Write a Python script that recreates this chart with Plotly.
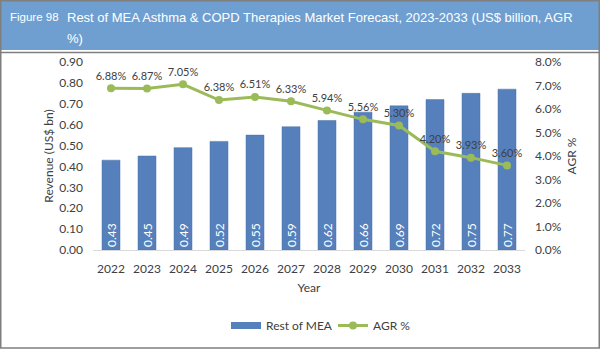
import plotly.graph_objects as go

years = ["2022","2023","2024","2025","2026","2027","2028","2029","2030","2031","2032","2033"]
revenue = [0.43,0.45,0.49,0.52,0.55,0.59,0.62,0.66,0.69,0.72,0.75,0.77]
agr = [6.88,6.87,7.05,6.38,6.51,6.33,5.94,5.56,5.30,4.20,3.93,3.60]

W, H = 600, 350
L, R, T, B = 93, 75, 62, 100
pw, ph = W - L - R, H - T - B
def px(x): return (x - L) / pw
def py(y): return (H - B - y) / ph

BAR = "#5580bb"
FONT = "Lato, 'Open Sans', Arial, sans-serif"
fig = go.Figure()
fig.add_trace(go.Bar(
    x=years, y=revenue, name="Rest of MEA", showlegend=False,
    marker=dict(color=BAR, line=dict(color="#4a72aa", width=0.5)),
    width=0.5,
    text=[f"{v:.2f}" for v in revenue], textposition="inside",
    insidetextanchor="start", textangle=-90, constraintext="none",
    textfont=dict(color="white", size=12, family=FONT),
))
# legend-only entry mimicking the wide bar swatch
fig.add_trace(go.Scatter(
    x=[None], y=[None], name="Rest of MEA", mode="lines",
    line=dict(color=BAR, width=7),
))
fig.add_trace(go.Scatter(
    x=years, y=[a/100 for a in agr], name="AGR %", yaxis="y2",
    mode="lines+markers+text",
    line=dict(color="#9bbb59", width=3),
    marker=dict(color="#9bbb59", size=8),
    text=[f"{a:.2f}%" for a in agr], textposition="top center",
    textfont=dict(color="#404040", size=11, family=FONT),
))

shapes = [
    dict(type="rect", xref="paper", yref="paper", x0=px(0), x1=px(W), y0=py(50), y1=py(0),
         fillcolor="#6f9fd0", line=dict(width=0), layer="below"),
    dict(type="line", xref="paper", yref="paper", x0=px(0), x1=px(W), y0=py(52.5), y1=py(52.5),
         line=dict(color="#7f7f7f", width=1.5)),
    dict(type="rect", xref="paper", yref="paper", x0=px(0.75), x1=px(W-0.75), y0=py(H-2), y1=py(0.75),
         line=dict(color="#7f7f7f", width=1.5), fillcolor="rgba(0,0,0,0)"),
]
tfont = dict(color="white", size=13, family="Liberation Sans, Arial")
annotations = [
    dict(text="Figure 98", x=px(8), y=py(17), xref="paper", yref="paper", xanchor="left", yanchor="middle",
         showarrow=False, font=dict(color="white", size=11.5, family="Liberation Sans, Arial")),
    dict(text="Rest of MEA Asthma & COPD Therapies Market Forecast, 2023-2033 (US$ billion, AGR",
         x=px(65), y=py(17), xref="paper", yref="paper", xanchor="left", yanchor="middle",
         showarrow=False, font=tfont),
    dict(text="%)", x=px(65), y=py(39), xref="paper", yref="paper", xanchor="left", yanchor="middle",
         showarrow=False, font=tfont),
]

fig.update_layout(
    width=W, height=H, margin=dict(l=L, r=R, t=T, b=B, autoexpand=False),
    paper_bgcolor="white", plot_bgcolor="white",
    font=dict(family=FONT, color="#404040", size=12),
    showlegend=True,
    legend=dict(orientation="h", x=px(226), xanchor="left", y=py(311), yanchor="top",
                font=dict(size=12, color="#404040"), entrywidth=62, itemwidth=30),
    xaxis=dict(range=[-0.5, 11.5], showline=True, linecolor="#d9d9d9", linewidth=1, ticks="", showgrid=False,
               automargin=False, ticklabelstandoff=8,
               title=dict(text="Year", standoff=8, font=dict(size=12)), tickfont=dict(size=12)),
    yaxis=dict(range=[0, 0.9], dtick=0.1, tickformat=".2f", showgrid=False, zeroline=False, automargin=False,
               ticklabelstandoff=9,
               title=dict(text="Revenue (US$ bn)", font=dict(size=12), standoff=3), tickfont=dict(size=12)),
    yaxis2=dict(range=[0, 0.08], dtick=0.01, tickformat=".1%", overlaying="y", side="right", automargin=False,
                showgrid=False, zeroline=False, ticklabelstandoff=9,
                title=dict(text="AGR %", font=dict(size=12), standoff=6), tickfont=dict(size=12)),
    shapes=shapes, annotations=annotations, bargap=0.5,
)
fig.write_html("out.html")
